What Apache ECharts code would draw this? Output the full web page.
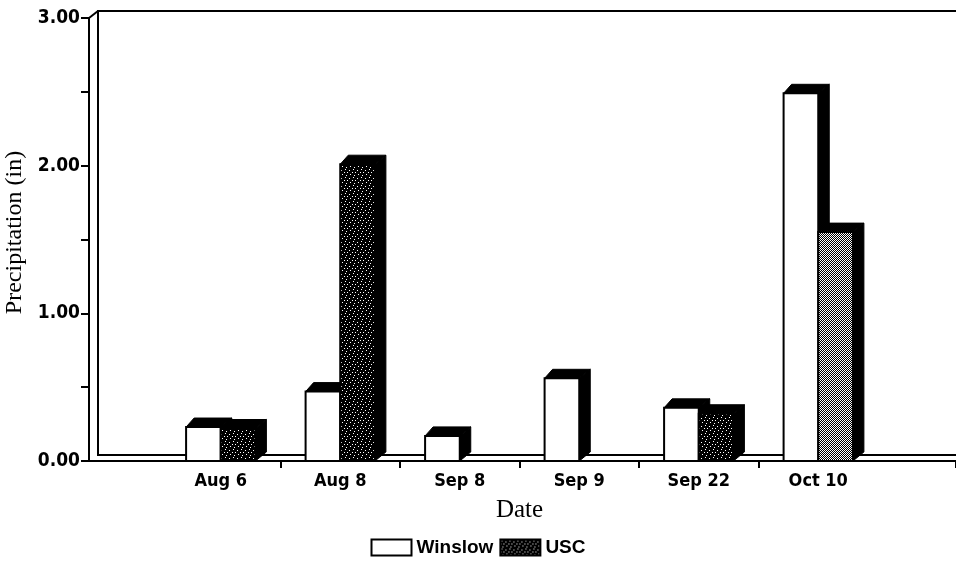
<!DOCTYPE html>
<html>
<head>
<meta charset="utf-8">
<script src="https://cdn.jsdelivr.net/npm/echarts@6/dist/echarts.min.js"></script>
<style>
  html, body { margin: 0; padding: 0; background: #fff; }
  #chart { width: 956px; height: 567px; }
</style>
</head>
<body>
<div id="chart"></div>
<script>
// Precipitation per storm date, inches
const dates = ['Aug 6', 'Aug 8', 'Sep 8', 'Sep 9', 'Sep 22', 'Oct 10'];
const winslow = [0.23, 0.47, 0.17, 0.56, 0.36, 2.49];
const usc = [0.22, 2.01, 0, 0, 0.32, 1.55];
const yTicks = [0, 0.5, 1, 1.5, 2, 2.5, 3];

const narrow = '"Liberation Sans Narrow", "DejaVu Sans Condensed", "Liberation Sans", sans-serif';
const serif = '"Liberation Serif", "DejaVu Serif", serif';

// fill patterns for the USC bars
function stipple() {
  const c = document.createElement('canvas');
  c.width = 8; c.height = 8;
  const g = c.getContext('2d');
  g.fillStyle = '#000'; g.fillRect(0, 0, 8, 8);
  g.fillStyle = '#fff';
  [[1, 1], [5, 2], [3, 4], [6, 6], [2, 7], [0, 4]].forEach(p => g.fillRect(p[0], p[1], 1, 1));
  return { image: c, repeat: 'repeat' };
}
function hatch() {
  const c = document.createElement('canvas');
  c.width = 4; c.height = 4;
  const g = c.getContext('2d');
  g.fillStyle = '#fff'; g.fillRect(0, 0, 4, 4);
  g.fillStyle = '#000';
  for (let i = 0; i < 4; i++) { g.fillRect(i, 3 - i, 1, 1); g.fillRect((i + 2) % 4, 3 - i, 1, 1); }
  return { image: c, repeat: 'repeat' };
}
const darkFill = stipple();
const greyFill = hatch();

const DX = 11, DY = 9;   // oblique depth of the bars

function barRenderer(side, frontFill) {
  return function (params, api) {
    const idx = api.value(0);
    const val = api.value(1);
    if (!(val > 0)) return null;
    const base = api.coord([idx, 0]);
    const top = api.coord([idx, val]);
    const fw = api.size([1, 0])[0] * 0.29;
    const x0 = side === 0 ? base[0] - fw : base[0];
    const x1 = x0 + fw;
    const yb = base[1], yt = top[1];
    const fill = typeof frontFill === 'function' ? frontFill(idx) : frontFill;
    return {
      type: 'group',
      children: [
        { type: 'polygon', shape: { points: [[x1, yt], [x1 + DX, yt - DY], [x1 + DX, yb - DY], [x1, yb]] },
          style: { fill: '#000', stroke: '#000', lineWidth: 1 } },
        { type: 'polygon', shape: { points: [[x0, yt], [x0 + DX - 3, yt - DY], [x1 + DX, yt - DY], [x1, yt]] },
          style: { fill: '#000', stroke: '#000', lineWidth: 1 } },
        { type: 'rect', shape: { x: x0, y: yt, width: fw, height: yb - yt },
          style: { fill: fill, stroke: '#000', lineWidth: 2 } }
      ]
    };
  };
}

const chart = echarts.init(document.getElementById('chart'), null, { renderer: 'canvas' });

chart.setOption({
  animation: false,
  backgroundColor: '#fff',
  grid: [
    // front wall edge and floor
    { left: 89, right: 0, top: 18, bottom: 106, outerBoundsMode: 'none', containLabel: false },
    // back wall
    { left: 98, right: -6, top: 11, bottom: 112, show: true, borderColor: '#000', borderWidth: 2,
      backgroundColor: 'transparent', outerBoundsMode: 'none', containLabel: false },
    // bars
    { left: 161, right: 78, top: 18, bottom: 106, outerBoundsMode: 'none', containLabel: false }
  ],
  xAxis: [
    { gridIndex: 0, type: 'value', min: -0.6, max: 6.65,
      axisLine: { show: true, onZero: false, lineStyle: { color: '#000', width: 2 } },
      axisTick: { show: true, inside: false, length: 7, lineStyle: { color: '#000', width: 2 }, customValues: [1, 2, 3, 4, 5, 6.65] },
      axisLabel: { show: false }, splitLine: { show: false } },
    { gridIndex: 1, type: 'value', show: false },
    { gridIndex: 2, type: 'category', data: dates,
      axisLine: { show: false }, axisTick: { show: false },
      axisLabel: { color: '#000', fontFamily: narrow, fontWeight: 'bold', fontSize: 18, margin: 11 },
      name: 'Date', nameLocation: 'middle', nameGap: 37,
      nameTextStyle: { color: '#000', fontFamily: serif, fontSize: 25 } }
  ],
  yAxis: [
    { gridIndex: 0, type: 'value', min: 0, max: 3, interval: 0.5,
      axisLine: { show: true, onZero: false, lineStyle: { color: '#000', width: 2 } },
      axisTick: { show: true, length: 8, lineStyle: { color: '#000', width: 2 } },
      axisLabel: { color: '#000', fontFamily: narrow, fontWeight: 'bold', fontSize: 19, margin: 9,
        formatter: v => (yTicks.includes(v) && Number.isInteger(v)) ? v.toFixed(2) : '' },
      splitLine: { show: false },
      name: 'Precipitation (in)', nameLocation: 'middle', nameGap: 57, nameRotate: 90,
      nameTextStyle: { color: '#000', fontFamily: serif, fontSize: 24, padding: [0, 0, 0, 14] } },
    { gridIndex: 1, type: 'value', show: false },
    { gridIndex: 2, type: 'value', min: 0, max: 3, show: false }
  ],
  legend: {
    bottom: 5, left: 'center', itemWidth: 40, itemHeight: 16, itemGap: 6,
    icon: 'rect',
    textStyle: { color: '#000', fontFamily: '"Liberation Sans", Arial, sans-serif', fontSize: 19, fontWeight: 'bold' },
    data: ['Winslow', 'USC']
  },
  series: [
    { name: 'Winslow', type: 'custom', xAxisIndex: 2, yAxisIndex: 2,
      itemStyle: { color: '#fff', borderColor: '#000', borderWidth: 2 },
      renderItem: barRenderer(0, '#fff'),
      encode: { x: 0, y: 1 },
      data: winslow.map((v, i) => [i, v]) },
    { name: 'USC', type: 'custom', xAxisIndex: 2, yAxisIndex: 2,
      itemStyle: { color: darkFill, borderColor: '#000', borderWidth: 2 },
      renderItem: barRenderer(1, i => i === dates.length - 1 ? greyFill : darkFill),
      encode: { x: 0, y: 1 },
      data: usc.map((v, i) => [i, v]) }
  ],
  graphic: [
    // slanted corner joining the front and back wall edges
    { type: 'line', shape: { x1: 89, y1: 18, x2: 98, y2: 11 }, style: { stroke: '#000', lineWidth: 2 } }
  ]
});
</script>
</body>
</html>
